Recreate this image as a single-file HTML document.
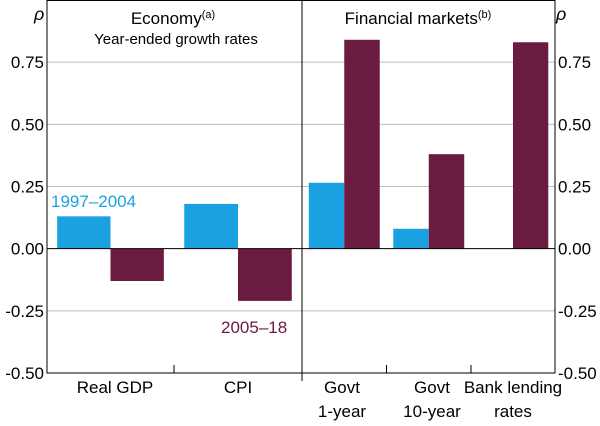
<!DOCTYPE html>
<html><head><meta charset="utf-8"><style>
body{margin:0;background:#fff;}
svg text{font-family:"Liberation Sans",Arial,sans-serif;fill:#000;}
</style></head><body>
<svg id="c" width="600" height="421" viewBox="0 0 600 421" xmlns="http://www.w3.org/2000/svg"></svg>
<script>
const yTicks=[0.75,0.5,0.25,0,-0.25,-0.5];
const yTickLabels=["0.75","0.50","0.25","0.00","-0.25","-0.50"];
const categories=["Real GDP","CPI","Govt 1-year","Govt 10-year","Bank lending rates"];
const series1997=[0.13,0.18,0.265,0.08,null];
const series2005=[-0.13,-0.21,0.84,0.38,0.83];
const NS="http://www.w3.org/2000/svg";
const svg=document.getElementById('c');
const L=47,R=555,DIV=302,TOP=0,BOT=373;
const yMax=1.0,yMin=-0.5;
function y(v){return TOP+(yMax-v)/(yMax-yMin)*(BOT-TOP);}
const catBounds=[[47,174],[174,302],[302,386.5],[386.5,471],[471,555]];
function mk(t,a,txt){const e=document.createElementNS(NS,t);for(const k in a)e.setAttribute(k,a[k]);if(txt!=null)e.textContent=txt;svg.appendChild(e);return e;}
yTicks.forEach((v,i)=>{
  if(v!==-0.5&&v!==0){const g=mk('line',{x1:L,x2:R,y1:y(v),y2:y(v),stroke:'#bdbdbd','stroke-width':1});
  
  }
  const t1=mk('text',{x:L-3,y:y(v)+6,'text-anchor':'end','font-size':17},yTickLabels[i]);
  
  
  const t2=mk('text',{x:R+3,y:y(v)+6,'text-anchor':'start','font-size':17},yTickLabels[i]);
  
  
});
const blue='#1ba1e2',maroon='#6b1a40';
categories.forEach((c,i)=>{
  const [a,b]=catBounds[i];const w=b-a;
  const pad=w*0.08;const bw=(w-2*pad)/2;
  const v1=series1997[i],v2=series2005[i];
  if(v1!==null){const r=mk('rect',{x:a+pad,y:Math.min(y(v1),y(0)),width:bw,height:Math.abs(y(v1)-y(0)),fill:blue});
    
    }
  if(v2!==null){const r=mk('rect',{x:a+pad+bw,y:Math.min(y(v2),y(0)),width:bw,height:Math.abs(y(v2)-y(0)),fill:maroon});
    
    }
});
const z=mk('line',{x1:L,x2:R,y1:y(0),y2:y(0),stroke:'#000','stroke-width':1});


const f=mk('rect',{x:L,y:TOP+0.5,width:R-L,height:BOT-TOP-0.5,fill:'none',stroke:'#000','stroke-width':1});


const d=mk('line',{x1:DIV,x2:DIV,y1:TOP,y2:BOT+8,stroke:'#000','stroke-width':1});


[174,386.5,471].forEach(x=>{const t=mk('line',{x1:x,x2:x,y1:BOT,y2:BOT-8,stroke:'#000'});

});
const xl=[["Real GDP"],["CPI"],["Govt","1-year"],["Govt","10-year"],["Bank lending","rates"]];
const xc=[115,238,342,432,513];
xl.forEach((ls,i)=>ls.forEach((s,j)=>{const t=mk('text',{x:xc[i],y:393+j*24,'text-anchor':'middle','font-size':17},s);

}));
let t=mk('text',{x:173,y:24,'text-anchor':'middle','font-size':17});t.innerHTML='Economy<tspan font-size="11" dy="-6">(a)</tspan>';


t=mk('text',{x:176,y:44,'text-anchor':'middle','font-size':15},'Year-ended growth rates');


t=mk('text',{x:418,y:24,'text-anchor':'middle','font-size':17});t.innerHTML='Financial markets<tspan font-size="11" dy="-6">(b)</tspan>';


t=mk('text',{x:34,y:20,'font-size':18,'font-style':'italic'},'ρ');


t=mk('text',{x:556,y:20,'font-size':18,'font-style':'italic'},'ρ');


t=mk('text',{x:51,y:207,'font-size':17},'1997–2004');t.style.fill=blue;


t=mk('text',{x:221,y:333,'font-size':17},'2005–18');t.style.fill=maroon;


</script>
</body></html>
